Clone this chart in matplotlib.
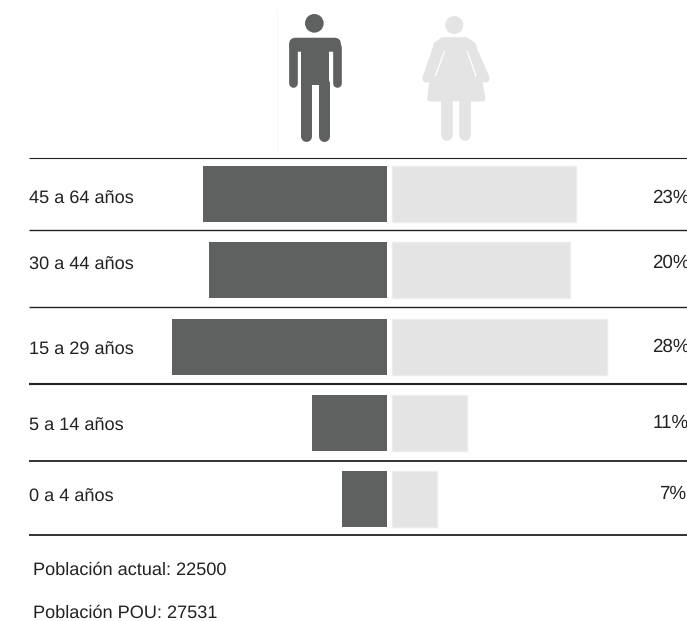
import matplotlib
matplotlib.use("Agg")
import matplotlib.pyplot as plt
from matplotlib.patches import Circle, FancyBboxPatch, Polygon

# data
ages = ["45 a 64 años", "30 a 44 años", "15 a 29 años", "5 a 14 años", "0 a 4 años"]
men = [23.0, 22.3, 26.9, 9.4, 5.6]      # bar lengths
women = [23.0, 22.3, 26.9, 9.4, 5.6]
pct_labels = ["23%", "20%", "28%", "11%", "7%"]
footer = ["Población actual: 22500", "Población POU: 27531"]

# layout, all in pixels of the reference
row_top = [166, 242, 319, 395, 471]
row_h = 56
label_y = [199, 265, 350, 426, 497]
pct_y = [198, 263, 347, 423, 494]
pct_left = [652, 652, 652, 653, 659]
rule_y = [158, 230, 307, 384, 461, 535]
rule_lw = [0.8, 1.0, 1.0, 1.5, 1.3, 1.3]
px_per_unit = 8
men_x = 387
women_x = 392

dark = "#5f6160"
light = "#e4e4e4"
ink = "#222222"

plt.rcParams["font.family"] = ["Liberation Sans", "DejaVu Sans"]
plt.rcParams["text.hinting"] = "none"
plt.rcParams["text.kerning_factor"] = 0

fig = plt.figure(figsize=(6.87, 6.21), dpi=100)
ax = fig.add_axes([0, 0, 1, 1])
ax.set_xlim(0, 687)
ax.set_ylim(621, 0)
ax.axis("off")

px = 72 / fig.dpi  # one pixel in points


def stroke(points, width, color):
    xs = [260 + p[0] / 3 for p in points]
    ys = [p[1] / 3 for p in points]
    ax.plot(xs, ys, color=color, lw=width / 3 * px, solid_capstyle="round")


def zpoly(points, color, lw=0.0):
    pts = [(260 + p[0] / 3, p[1] / 3) for p in points]
    ax.add_patch(Polygon(pts, closed=True, fc=color, ec=color, lw=lw, joinstyle="round"))


# faint edge left of the icons
ax.plot([277, 277], [10, 150], color="#f7f7f7", lw=0.8)

# man icon (coordinates from the 3x crop)
ax.add_patch(Circle((260 + 163 / 3, 70 / 3), 28 / 3, fc=dark, ec="none"))
ax.add_patch(FancyBboxPatch((260 + 107 / 3, 133 / 3), 116 / 3, 0.8, boxstyle="round,pad=6.6",
                            fc=dark, ec="none"))
zpoly([(122, 120), (208, 120), (208, 255), (122, 255)], dark)
stroke([(100, 140), (100, 250)], 26, dark)
stroke([(230, 140), (230, 250)], 26, dark)
stroke([(138.5, 250), (138.5, 408)], 33, dark)
stroke([(191.5, 250), (191.5, 408)], 33, dark)

# woman icon
ax.add_patch(Circle((260 + 583 / 3, 75 / 3), 27 / 3, fc=light, ec="none"))
zpoly([(548, 120), (618, 120), (640, 135), (668, 296), (510, 296), (528, 135)], light, lw=4)
stroke([(535, 135), (500, 235)], 26, light)
stroke([(632, 135), (676, 235)], 26, light)
stroke([(553, 155), (526, 228)], 4, "white")
stroke([(622, 155), (648, 228)], 4, "white")
stroke([(562, 296), (562, 405)], 35, light)
stroke([(614, 296), (614, 405)], 35, light)

# bars grow away from the centre gap
for i in range(len(ages)):
    ax.barh(row_top[i] + row_h / 2, men[i] * px_per_unit, height=row_h, left=men_x - men[i] * px_per_unit,
            color=dark, edgecolor="none")
    ax.barh(row_top[i] + row_h / 2, women[i] * px_per_unit, height=row_h, left=women_x,
            color=light, edgecolor="#ededed", linewidth=1.0)
    ax.text(29, label_y[i], ages[i], fontsize=13.1, color=ink, ha="left", va="center")
    ax.text(pct_left[i], pct_y[i], pct_labels[i], fontsize=13.5, color=ink, ha="left", va="center", clip_on=True)

for y, lw in zip(rule_y, rule_lw):
    ax.plot([29, 687], [y, y], color="#222222", lw=lw, solid_capstyle="butt")

ax.text(33, 570, footer[0], fontsize=13.05, color=ink, ha="left", va="center")
ax.text(33, 613, footer[1], fontsize=13.05, color=ink, ha="left", va="center")

fig.savefig("out.png", dpi=100)
